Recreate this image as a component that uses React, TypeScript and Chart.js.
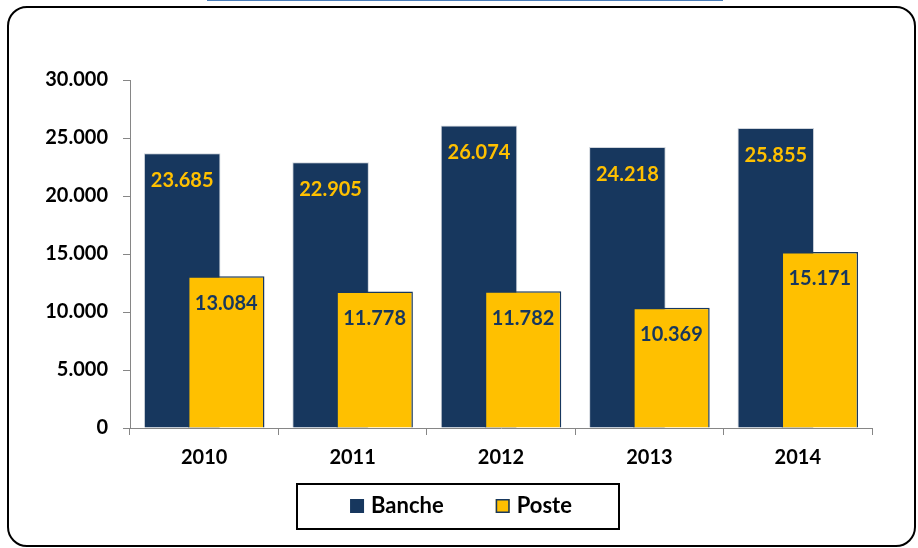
import React, { useEffect, useRef } from "react";
import { Chart, registerables } from "chart.js";

Chart.register(...registerables);

const categories = ["2010", "2011", "2012", "2013", "2014"];
const bancheValues = [23685, 22905, 26074, 24218, 25855];
const posteValues = [13084, 11778, 11782, 10369, 15171];
const seriesNames = ["Banche", "Poste"];
const yMin = 0;
const yMax = 30000;
const yStep = 5000;

const NAVY = "#17375E";
const YELLOW = "#FFC000";
const GREY = "#868686";
const FONT = "Lato, 'Open Sans', sans-serif";

function fmt(v: number): string {
  return String(Math.round(v)).replace(/\B(?=(\d{3})+(?!\d))/g, ".");
}

const drawOrderPlugin = {
  id: "drawOrder",
  beforeDatasetDraw(chart: any, args: any) {
    if (args.index === 1) return false;
    return true;
  },
  afterDatasetDraw(chart: any, args: any) {
    if (args.index === 0) {
      const meta = chart.getDatasetMeta(1);
      if (meta && meta.controller) meta.controller.draw();
    }
  },
};

const valueLabelPlugin = {
  id: "valueLabels",
  afterDatasetsDraw(chart: any) {
    const ctx = chart.ctx;
    ctx.save();
    ctx.font = `bold 20px ${FONT}`;
    ctx.textAlign = "center";
    ctx.textBaseline = "middle";
    chart.data.datasets.forEach((ds: any, di: number) => {
      const meta = chart.getDatasetMeta(di);
      ctx.fillStyle = di === 0 ? YELLOW : NAVY;
      meta.data.forEach((bar: any, i: number) => {
        ctx.fillText(fmt(ds.data[i]), bar.x, bar.y + 27);
      });
    });
    ctx.restore();
  },
};

const boxedLegendPlugin = {
  id: "boxedLegend",
  afterDraw(chart: any) {
    const ctx = chart.ctx;
    const bx = 297, by = 484, bw = 322, bh = 45;
    ctx.save();
    ctx.lineWidth = 2;
    ctx.strokeStyle = "#000";
    ctx.strokeRect(bx, by, bw, bh);
    ctx.font = `bold 22px ${FONT}`;
    ctx.textBaseline = "alphabetic";
    ctx.textAlign = "left";
    const sq = 14, gapText = 7, gapItem = 52;
    const items = chart.data.datasets.map((ds: any) => ({
      label: ds.label,
      fill: ds.backgroundColor,
      stroke: ds.borderColor,
      w: ctx.measureText(ds.label).width,
    }));
    let total = 0;
    items.forEach((it: any, i: number) => {
      total += sq + gapText + it.w + (i > 0 ? gapItem : 0);
    });
    let x = bx + bw / 2 - total / 2 + 3;
    const baseY = 513;
    items.forEach((it: any, i: number) => {
      if (i > 0) x += gapItem;
      ctx.fillStyle = it.fill;
      ctx.fillRect(x, 499, sq, sq);
      if (i === 1) {
        ctx.lineWidth = 1.5;
        ctx.strokeStyle = it.stroke;
        ctx.strokeRect(x + 0.75, 499.75, sq - 1.5, sq - 1.5);
      }
      x += sq + gapText;
      ctx.fillStyle = "#000";
      ctx.fillText(it.label, x, baseY);
      x += it.w;
    });
    ctx.restore();
  },
};

export default function App() {
  const canvasRef = useRef<HTMLCanvasElement | null>(null);

  useEffect(() => {
    let chart: Chart | null = null;
    let cancelled = false;
    const build = () => {
      if (cancelled || !canvasRef.current) return;
      chart = new Chart(canvasRef.current, {
        type: "bar",
        data: {
          labels: categories,
          datasets: [
            {
              label: seriesNames[0],
              data: bancheValues,
              backgroundColor: NAVY,
              borderColor: "#D0D5DC",
              borderWidth: 1,
              categoryPercentage: 0.593,
              barPercentage: 1.74,
            },
            {
              label: seriesNames[1],
              data: posteValues,
              backgroundColor: YELLOW,
              borderColor: NAVY,
              borderWidth: 1.5,
              categoryPercentage: 0.593,
              barPercentage: 1.74,
            },
          ],
        },
        options: {
          responsive: false,
          animation: false,
          layout: { padding: { left: 10, right: 46, top: 80, bottom: 80 } },
          plugins: {
            legend: { display: false },
            tooltip: { enabled: false },
            title: { display: false },
          },
          scales: {
            x: {
              grid: {
                display: true,
                drawOnChartArea: false,
                drawTicks: true,
                tickLength: 7,
                color: GREY,
                offset: true,
              },
              border: { display: true, color: GREY, width: 1 },
              ticks: {
                color: "#000",
                padding: 11,
                font: { family: FONT, size: 20, weight: "bold" },
              },
              afterFit: (scale: any) => {
                scale.height = 40;
              },
            },
            y: {
              min: yMin,
              max: yMax,
              grid: {
                display: true,
                drawOnChartArea: false,
                drawTicks: true,
                tickLength: 7,
                color: GREY,
              },
              border: { display: true, color: GREY, width: 1 },
              ticks: {
                stepSize: yStep,
                color: "#000",
                padding: 15,
                font: { family: FONT, size: 20, weight: "bold" },
                callback: (v: any) => fmt(Number(v)),
              },
              afterFit: (scale: any) => {
                scale.width = 120;
              },
            },
          },
        } as any,
        plugins: [drawOrderPlugin, valueLabelPlugin, boxedLegendPlugin],
      });
    };
    const fonts: any = (document as any).fonts;
    if (fonts && fonts.load) {
      Promise.all([fonts.load("bold 20px Lato"), fonts.load("bold 22px Lato")])
        .then(build, build);
    } else {
      build();
    }
    return () => {
      cancelled = true;
      if (chart) chart.destroy();
    };
  }, []);

  return (
    <div style={{ position: "absolute", left: 0, top: 0, width: 918, height: 548, overflow: "hidden", background: "#fff" }}>
      <div
        style={{
          position: "absolute",
          left: 207,
          top: -29,
          width: 516,
          height: 30,
          boxSizing: "border-box",
          border: "2px solid #4A7EBB",
          background: "#fff",
        }}
      />
      <div
        style={{
          position: "absolute",
          left: 7,
          top: 6,
          width: 909,
          height: 541,
          boxSizing: "border-box",
          border: "2px solid #000",
          borderRadius: 20,
        }}
      />
      <canvas
        ref={canvasRef}
        width={918}
        height={548}
        style={{ position: "absolute", left: 0, top: 0, width: 918, height: 548 }}
      />
    </div>
  );
}
